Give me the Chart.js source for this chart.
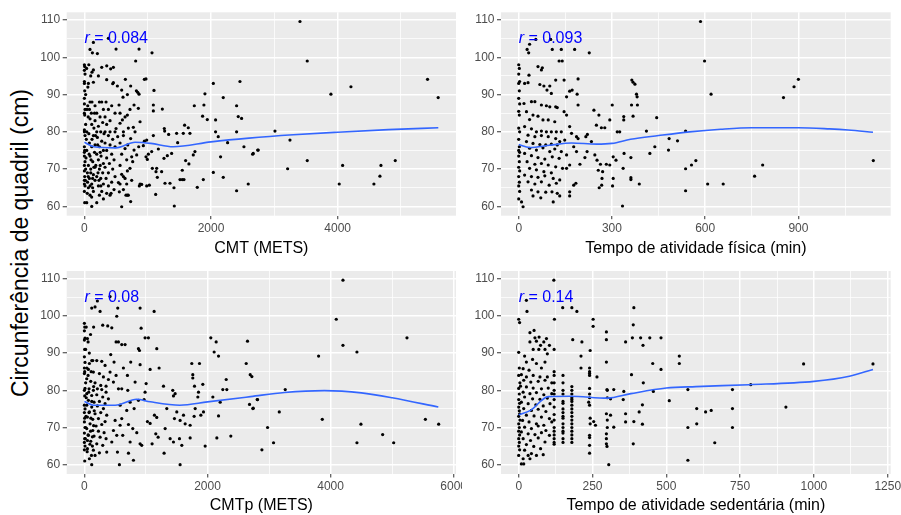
<!DOCTYPE html>
<html lang="pt">
<head>
<meta charset="UTF-8">
<title>Circunferência de quadril</title>
<script src="https://cdn.jsdelivr.net/npm/chart.js"></script>
<style>
  body { margin: 0; background: #fff; width: 901px; height: 515px; position: relative; overflow: hidden;
         font-family: "Liberation Sans", Arial, sans-serif; }
  canvas { position: absolute; }
  #ytitle { position: absolute; left: 20px; top: 243px; transform: translate(-50%, -50%) rotate(-90deg);
            font-size: 23px; white-space: nowrap; color: #000; }
</style>
</head>
<body>
<div id="ytitle">Circunferência de quadril (cm)</div>
<canvas id="p1" width="462" height="258" style="left:0;top:0"></canvas>
<canvas id="p2" width="439" height="258" style="left:462px;top:0"></canvas>
<canvas id="p3" width="462" height="257" style="left:0;top:258px"></canvas>
<canvas id="p4" width="439" height="257" style="left:462px;top:258px"></canvas>
<script>
// eixos
const yMajor = [60, 70, 80, 90, 100, 110];
const yRange = [57.5, 112.07];
const cmtTicks = [0, 2000, 4000];
const afTicks = [0, 300, 600, 900];
const cmtpTicks = [0, 2000, 4000, 6000];
const sedTicks = [0, 250, 500, 750, 1000, 1250];

const titles = ['CMT (METS)', 'Tempo de atividade física (min)', 'CMTp (METS)', 'Tempo de atividade sedentária (min)'];
const rValues = ['0.084', '0.093', '0.08', '0.14'];

// CMT (METS) x circunferência
const cmtPts = [
  [0,98],[5,97.5],[0,96.5],[10,95.5],[0,93.5],[0,93],[5,91],[0,89],[0,87.5],[10,86],[0,85],[5,84.5],[0,80.5],[0,80],[10,79],[0,76],[5,75],[0,74.5],[0,73.5],[10,72],[0,71],[0,69.5],[5,68],[0,67],[0,66],[10,65.5],[0,64],[5,61],
  [63,93],[89,88],[53,87],[89,83.5],[116,82],[37,80],[142,79],[79,77],[116,76],[37,75],[89,73.5],[132,72],[63,71],[100,70],[47,69],[142,68.5],[79,67.5],[116,66],[63,65],[142,64],[89,63],[37,61],[116,60],
  [205,101],[221,95],[142,93.3],[237,88],[274,88],[168,87],[300,86],[195,85],[247,84],[168,83],[289,82.5],[221,81.5],[195,80],[258,80],[310,79.5],[205,78.5],[274,77.5],[168,76.5],[237,76],[300,75],[195,74],[263,73.5],[221,72.5],[300,71.5],[168,70.5],[237,70],[289,69],[195,68],[258,67.5],[168,67],[300,66],[221,65.5],[274,64],[237,63],[300,62],[195,61],
  [342,88],[431,87],[379,86],[484,85],[326,84],[405,83],[352,82],[326,80],[405,80],[484,80],[379,79],[447,78],[326,77],[405,76.5],[484,76],[352,75],[431,74],[352,73],[468,72.5],[395,71.5],[326,70.5],[447,70],[379,69],[484,68],[342,67.5],[431,66.5],[379,65.5],[468,64.5],[352,63.5],[405,63],[352,94],
  [679,90],[720,86],[642,84],[694,81],[616,79],[563,77],[642,75.5],[589,74],[668,72.5],[563,71],[679,69.5],[616,68],[747,67],[563,66],[616,64.5],[679,63],
  [20,82],[60,84],[110,85],[150,81],[30,78],[70,79.5],[120,78],[160,74.5],[25,73],[75,74],[105,72.5],[150,70.5],[20,70],[60,68],[100,69],[130,67.5],[15,67],[50,66.5],[90,65.5],[130,65],[45,63.5],[115,62.5],[175,79],[210,76.5],[250,74.5],[180,71],[215,69],[250,71],[230,67],[260,65.5],[40,86],[80,86],[120,88],[160,85],[20,90],[55,92],[100,95],[35,97],[70,98],[120,96],
  [142,104],[379,105.1],[89,102.1],[126,101.2],[500,102.2],[863,102.2],[1068,101.2],[810,99],[274,97.3],[353,97.7],[415,96.9],[458,97.3],[142,96.6],[647,94.1],[947,94.1],[973,94.2],[458,93.2],[447,92.9],[521,92.3],[731,92.3],[589,91.2],[821,91],[842,90.6],[863,90.1],[1099,91.1],[610,89.3],
  [1904,90.2],[1888,87.2],[2036,93],[2457,93.5],[2193,89.2],[2404,87],[1736,87],[1867,84.2],[1941,83.3],[2072,83.2],[2430,84.1],[2483,83.6],[2404,80],[2072,80],[2114,78.7],[2262,77.1],[2151,73.3],[1720,73.8],[1746,74.7],[2520,76],[2667,74.2],[2746,75.1],[2036,69.1],[2193,67.8],[2404,64.2],[2588,66],[1783,65.1],[1878,67.2],[1546,67.2],[1573,67.2],[1510,67.2],[1651,71.4],[1599,72.3],[1546,69.7],[1415,65],[1420,60.1],
  [1273,66.2],[1352,66.2],[1126,63.2],[1220,69.3],[1131,69.3],[1152,67.8],[1257,72.9],[1310,73.6],[1378,74.2],[1331,79.3],[1262,80.9],[1268,80.2],[1473,77.1],[1562,79.6],[1583,81.8],[1641,81.1],[1667,79.6],[1457,79.6],[1168,75.4],[1063,74.7],[1010,74],[973,73.3],[994,72.6],[947,77.5],[984,77.8],[858,76],[931,76.3],[1089,79],[1089,87.2],[1089,85.6],[1231,86.1],[1073,70.2],[1142,70.2],[1026,65.7],[868,65.5],[905,65.9],[984,65.5],[879,66],
  [589,59.9],[657,63],[694,63],[731,61.3],[421,63.5],[552,63.9],[589,68.6],[642,67.5],[668,66],[537,66.4],[720,70.2],[763,72],[747,73.3],[826,73.8],[784,75.1],[684,76.5],[731,78.2],[800,80],[773,81.2],[879,82.7],[784,87.2],[852,86.3],[679,84.5],[547,87.2],[563,85],[600,83.2],[563,82.3],[500,80.9],[616,80],[526,78.7],
  [3405,109.6],[3520,99],[3894,90.1],[4210,92.1],[5420,94.1],[5588,89.2],[3010,80.2],[3247,77.8],[2658,74],[2737,75.1],[3520,72.3],[3210,70.1],[4079,71],[4684,71],[4910,72.3],[4668,68.1],[4025,66],[4573,66]
];
const cmtSmooth = [[0,77.2],[150,76.0],[500,75.7],[800,77.2],[1050,76.9],[1400,76.0],[2000,77.3],[2600,78.3],[3300,79.2],[4000,79.9],[4800,80.6],[5590,81.1]];

// tempo de atividade física (min)
const afPts = [
  [0,98],[2,97],[0,95.5],[3,93.5],[0,93],[2,91],[0,89],[3,87.5],[0,85.5],[2,84.5],[0,81],[3,80],[0,78],[2,76],[0,75],[3,74.5],[0,73.5],[2,72],[0,70.5],[3,69.5],[0,68],[2,66.5],[0,65.5],[3,64],[0,62],
  [14,59.9],[9,61.2],[27,102.1],[32,101.2],[35,103.5],[55,104.8],[103,104.8],[108,102.1],[62,97.5],[76,97.2],[73,96.6],[33,95.2],[30,93.2],[19,93],[68,92.7],[81,92.3],[100,92.3],[91,91.2],[105,90.3],[17,87.6],[41,88.1],[52,88.1],[73,87.2],[89,87],[100,86.7],[119,86.7],[25,85.4],[46,84.5],[62,84.2],[35,83.3],[78,83.2],[95,83.2],[116,82.7],[19,81.4],[41,80.8],[57,80],[73,80.2],[89,80],[105,80],[121,80],[137,80],
  [30,79.1],[52,78.7],[73,79],[95,78.7],[119,78.2],[132,77.4],[148,77.8],[25,77.4],[46,76.9],[68,76.6],[87,76.5],[105,76.7],[124,76.5],[35,75.6],[57,75.1],[78,75.7],[100,74.7],[116,75.4],[137,74.7],[19,74.2],[41,73.6],[62,73.1],[84,72.7],[108,73.3],[130,72.9],[154,73.8],[27,72],[52,71.3],[73,71.5],[95,71.1],[119,70.6],[141,70.2],[35,70.2],[57,69.8],[81,69.3],[105,69],[19,68.4],[41,68],[62,67.8],[84,68.2],[111,67.5],[132,67.1],[30,66.6],[52,66],[73,66.6],[98,65.7],[121,66.2],[41,64.4],[62,63.9],[87,63.8],[46,62.8],[71,62.3],
  [258,84.5],[242,85.8],[250,81.8],[266,81.1],[277,81.1],[221,79.3],[216,78.7],[234,77.4],[245,73.8],[252,72.4],[263,71.3],[256,69.7],[270,69.3],[268,67.5],[259,65],[267,65.7],[220,74.7],[213,73.1],[197,71.3],[186,74.7],[177,76],[191,78.2],[186,78.7],[170,79.6],[164,81.4],[154,84.5],[191,87.2],[188,90.1],[172,91.2],[164,90.9],[146,93.9],[191,94.2],[119,93.9],[130,99],[154,89.4],[124,86.5],[146,85.4],[164,62.8],[177,65.7],[184,66.2],[154,70.2],[164,71.1],[164,63.9],[107,63.9],[111,61.2],[124,63.5],[132,62.8],
  [227,101.2],[137,102.1],[180,102.1],[140,99],[364,93.9],[368,93.3],[374,92.8],[379,90.1],[381,89.4],[363,87.2],[382,87.2],[368,84.2],[338,84.1],[338,83.2],[301,87.2],[293,83.2],[411,80.2],[444,83.8],[438,76],[484,78.2],[511,77.6],[422,74.2],[482,75.1],[339,74.2],[361,73.1],[313,72.4],[304,73.3],[293,71.1],[282,71.3],[304,67.5],[302,65.5],[336,70.2],[325,80],[317,80],[361,67.7],[361,67.2],[388,66],[334,60.1],
  [585,109.6],[598,99],[619,90.1],[852,89.2],[886,92.1],[900,94.1],[537,80.2],[537,70.1],[556,71.1],[570,72.3],[537,64.2],[608,66],[658,66],[759,68.1],[785,71.1],[1141,72.3]
];
const afSmooth = [[0,76.6],[35,75.8],[100,76.4],[170,77.0],[250,76.7],[300,76.9],[360,78.0],[450,79.0],[550,80.0],[650,80.7],[750,81.1],[900,81.1],[1000,80.8],[1060,80.5],[1140,79.9]];

// CMTp (METS)
const cmtpPts = [
  [0,98],[5,97],[0,96],[10,94],[0,93.5],[5,91],[0,89],[10,87.5],[0,86],[5,85],[0,84.5],[10,80.5],[0,80],[5,78.5],[0,76],[10,75],[0,74],[5,72.5],[0,71.5],[10,70],[0,68.5],[5,67],[0,66],[10,65],[0,64],[5,61],
  [49,93.9],[81,87.2],[136,88],[201,88],[282,87.8],[336,86.7],[65,85.6],[146,84.9],[244,84.5],[309,83.6],[38,83.1],[103,82.4],[173,82],[266,81.3],[352,81.1],[76,80.4],[146,80],[211,80.4],[282,80.2],[352,79.5],[38,79.1],[119,78.6],[201,78.8],[298,78.2],[390,77.7],[65,77.3],[157,76.8],[244,77],[336,76.4],[38,76],[119,75.5],[211,75.8],[309,75.1],[81,74.2],[173,73.7],[266,74],[363,73.3],[49,72.8],[136,72.2],[228,72.4],[336,71.6],[92,71],[190,70.4],[282,70.8],[38,69.7],[136,69.2],[228,69],[320,68.6],[65,67.9],[157,67.7],[255,67.4],[352,67],[103,66.3],[201,65.6],[298,65.2],[49,64.3],[146,63.9],[244,63.2],[81,61.6],[119,60],[173,62.5],
  [20,82],[60,84],[110,85],[150,81],[30,78],[70,79.5],[120,77],[160,74.5],[25,73],[75,74],[105,72.5],[150,70.5],[20,70],[60,68],[100,69],[130,67.5],[15,67],[50,66.5],[90,65.5],[130,65],[45,63.5],[115,62.5],[40,86],[80,90],[120,88],[20,91],[60,93],[100,95],[30,97],[150,97],
  [905,102.1],[922,96.7],[895,90.7],[878,91.2],[905,86.9],[986,79.5],[1003,81.8],[970,77.5],[878,77.3],[824,82.2],[699,84],[753,87.6],[634,86],[705,80],[607,80.4],[743,76.8],[808,75.1],[688,74.6],[607,72.4],[716,70.8],[786,69.7],[851,68.6],[623,67.9],[905,65.6],[932,65.2],[743,66.1],[716,63.1],[797,61.2],[569,60],[537,63.4],[553,93],[607,92.3],[661,92.3],[515,93],[542,102.1],[417,105.2],[526,99.9],[445,96.8],[379,97.3],[298,97.5],[255,101.2],[173,102.4],[119,102.1],[211,104],[428,89.6],[482,87.6],[417,84.9],[515,84],[390,82.9],[472,82.2],[553,80.4],[580,76],[499,71.9],[580,70.6],[472,69.2],[526,67.9],[445,66.1],[363,63.4],
  [1133,101.2],[986,94.1],[1040,94.1],[1176,91.2],[1068,85.6],[1214,86],[1285,81.1],[1436,80],[1474,79.1],[1447,78.5],[1501,74.2],[1339,75.1],[1463,72.4],[1555,71.9],[1610,73.3],[1637,71],[1718,70.6],[1545,67],[1393,67],[1447,66.1],[1583,65.2],[1718,67.2],[1555,60],[1312,69.7],[1198,67.4],[1160,68.3],[1295,63.1],[1138,73.3],[1176,72.7],[1068,71.1],[1024,71.6],[1100,65.6],
  [1745,87.2],[1870,87.2],[1761,84.2],[1761,83.3],[1789,81.1],[1854,79.5],[1924,81.6],[1843,78.2],[1935,74.2],[1892,73.3],[1800,75.1],[1783,73],[1962,65],[2054,94.1],[2141,93],[2108,90.3],[2179,89.2],[2087,78.2],[2152,67.2],[2179,73.1],[2206,76.8],[2249,80.2],[2314,80.2],[2304,82.9],[2379,67.7],[2650,93.2],[2629,87.2],[2683,76.2],[2743,75.2],[2808,77.5],
  [4201,109.6],[4092,99.1],[4201,92.1],[4428,90.3],[5241,94.1],[3805,89.2],[2721,83.7],[2694,84.2],[3263,80.2],[2813,77.5],[2737,75.1],[3166,74.2],[3865,72.2],[2976,70],[4493,70.9],[5540,72.2],[5756,70.9],[4846,68.1],[4428,65.9],[5025,65.9],[3073,65.9],[2884,64]
];
const cmtpSmooth = [[0,77.0],[150,76.0],[500,76.0],[850,77.6],[1070,76.9],[1550,76.0],[2000,76.9],[2700,78.3],[3250,79.4],[3900,79.9],[4500,79.3],[5000,78.0],[5750,75.5]];

// tempo de atividade sedentária (min)
const sedPts = [
  [0,99.1],[3,98.2],[0,90.2],[2,86],[0,84],[4,82],[0,80.5],[2,79],[0,77.5],[3,76.5],[0,75.5],[2,74.5],[0,73],[4,72],[0,71],[2,70],[0,69],[3,68],[0,67],[2,66],[0,65],[3,64],[0,62.5],
  [9,60.2],[17,60.2],[15,61.6],[32,62.5],[38,61.6],[26,104.2],[28,101.2],[38,95.5],[52,96.1],[55,94.1],[60,93.2],[38,93],[69,94.3],[74,92.1],[85,93],[94,93.9],[104,92.1],[89,91],[97,89.8],[68,91],[49,91],[20,89.2],[26,87.6],[47,88.3],[60,87.2],[77,86],[89,87.6],[15,85.8],[35,85.4],[9,84.2],[26,83.6],[49,84],[72,83.6],[97,83.6],[17,82.7],[41,82.2],[66,82.4],[89,82.7],[112,82],[6,81.1],[26,80.9],[49,80.6],[77,80.4],[100,80.6],[15,79.5],[38,79.1],[60,79.4],[85,78.8],[112,79.1],[20,78.2],[47,77.7],[72,77.6],[97,77.9],
  [9,76.8],[32,76.4],[58,76.1],[83,75.8],[106,76.4],[17,75.1],[43,74.6],[66,74.9],[92,74.3],[3,73.7],[26,73.3],[52,73.1],[77,72.8],[104,72.4],[13,71.9],[35,71.5],[60,71],[85,70.6],[112,71.5],[20,70.1],[43,69.7],[66,70.4],[92,69.2],[9,68.8],[32,68.3],[55,68.1],[77,68.6],[104,67.9],[15,67],[40,66.5],[66,67.2],[89,66.1],[26,65.4],[51,64.9],[74,64.3],[20,63.9],[43,63],[60,62.5],[83,62.7],
  [120,91],[120,85],[120,84],[120,82],[120,80],[120,79],[120,77.5],[120,75.5],[120,73.5],[120,72],[120,70],[120,69],[120,68],[120,67],[120,66],[120,65.5],
  [150,84],[150,82],[150,80],[150,79],[150,77],[150,76.5],[150,75],[150,74],[150,73],[150,72.5],[150,71],[150,70],[150,69],[150,68.5],[150,67],[150,66],
  [180,81],[180,80],[180,79],[180,78],[180,77.5],[180,77],[180,76],[180,75],[180,74],[180,73],[180,72],[180,71],[180,70],[180,69],[180,68],[180,67],[180,66],
  [240,85],[240,84.5],[240,84],[240,80.5],[240,79],[240,78],[240,76],[300,80],[300,78],[300,72],[300,70],
  [121,99.1],[119,109.6],[149,102.2],[180,102.2],[197,101.2],[252,99.1],[252,97.2],[297,95.7],[297,93.6],[390,102.2],[388,97.6],[362,93],[385,94.1],[413,94.1],[444,94.1],[482,94.1],[421,92.1],[214,93],[183,93.6],[211,89.2],[242,90.7],[297,87.6],[240,86],[211,86],[265,83.6],[454,87.2],[482,85.6],[544,89.2],[544,87.2],[382,84.2],[422,82],[456,79.7],[356,79.7],[322,80.2],[299,80.2],[311,77.7],[354,77.5],[419,76.1],[408,74.2],[390,71.6],[419,70.9],[362,73.7],[362,71.5],[311,73.3],[322,70.1],[297,73.7],[297,68.3],[297,67],[297,65.6],[299,64.9],[305,60],[388,65.6],[510,77.2],[242,72.5],[242,71],[240,67.9],[240,67.3],[240,65.2],[240,63.1],[254,71.6],[260,70.6],[237,76.8],
  [573,80.2],[573,70],[573,61.2],[603,75.1],[603,71],[633,74.2],[652,74.6],[664,65.9],[724,80.2],[724,75.1],[724,70],[786,81.5],[905,75.5],[965,87.1],[1200,87.1]
];
const sedSmooth = [[0,73.4],[40,74.6],[100,78.3],[175,78.4],[300,77.9],[380,79.1],[500,80.6],[600,81.0],[780,81.5],[1000,82.4],[1120,83.8],[1200,85.6]];

Chart.defaults.font.family = '"Liberation Sans", Arial, sans-serif';

function withMinor(major, min, max) {
  const half = (major[1] - major[0]) / 2;
  const out = [];
  for (let v = major[0] - half; v <= max; v += half) if (v >= min) out.push(v);
  return out;
}

const panelBg = {
  id: 'panelBg',
  beforeDraw(chart) {
    const { ctx, chartArea: a } = chart;
    ctx.save();
    ctx.fillStyle = '#EBEBEB';
    ctx.fillRect(a.left, a.top, a.right - a.left, a.bottom - a.top);
    ctx.restore();
  }
};

const rLabel = {
  id: 'rLabel',
  afterDatasetsDraw(chart, args, opts) {
    const { ctx, scales } = chart;
    const px = scales.x.getPixelForValue(0), py = scales.y.getPixelForValue(105);
    ctx.save();
    ctx.fillStyle = '#0000FF';
    ctx.textBaseline = 'middle';
    ctx.font = 'italic 16px "Liberation Sans", Arial';
    ctx.fillText('r', px, py);
    const w = ctx.measureText('r').width;
    ctx.font = '16px "Liberation Sans", Arial';
    ctx.fillText(' = ' + opts.text, px + w, py);
    ctx.restore();
  }
};

function makePanel(id, p) {
  const xAll = withMinor(p.xMajor, p.xMin, p.xMax);
  const yAll = withMinor(yMajor, yRange[0], yRange[1]);
  const xh = p.h - p.b;
  const gridW = (major) => (c) => major.includes(c.tick.value) ? 1.5 : 0.75;
  const tickC = (major) => (c) => major.includes(c.tick.value) ? '#333333' : 'rgba(0,0,0,0)';

  new Chart(document.getElementById(id), {
    type: 'scatter',
    data: {
      datasets: [
        {
          data: p.smooth.map(([x, y]) => ({ x, y })),
          showLine: true, borderColor: '#3366FF', borderWidth: 1.6,
          pointRadius: 0, cubicInterpolationMode: 'monotone', order: 0
        },
        {
          data: p.pts.map(([x, y]) => ({ x, y })),
          backgroundColor: '#000000', borderWidth: 0, pointRadius: 1.6, order: 1
        }
      ]
    },
    options: {
      responsive: false,
      animation: false,
      events: [],
      layout: { padding: { top: p.t, right: p.w - p.r, left: 0, bottom: 0 } },
      plugins: { legend: { display: false }, tooltip: { enabled: false }, rLabel: { text: p.r2 } },
      scales: {
        x: {
          type: 'linear', min: p.xMin, max: p.xMax,
          afterBuildTicks: (s) => { s.ticks = xAll.map(v => ({ value: v })); },
          afterFit: (s) => { s.height = xh; s.paddingLeft = 0; s.paddingRight = 0; },
          ticks: { autoSkip: false, maxRotation: 0, color: '#4D4D4D', font: { size: 12 }, padding: 1.8,
                   callback: (v) => p.xMajor.includes(v) ? String(v) : '' },
          grid: { color: '#FFFFFF', lineWidth: gridW(p.xMajor), tickColor: tickC(p.xMajor), tickLength: 3.5, tickWidth: 1 },
          border: { display: false },
          title: { display: true, text: p.title, color: '#000000', font: { size: 16 },
                   padding: { top: xh - 29 - 9.6, bottom: 0 } }
        },
        y: {
          type: 'linear', min: yRange[0], max: yRange[1],
          afterBuildTicks: (s) => { s.ticks = yAll.map(v => ({ value: v })); },
          afterFit: (s) => { s.width = p.l; s.paddingTop = 0; s.paddingBottom = 0; },
          ticks: { autoSkip: false, color: '#4D4D4D', font: { size: 12 }, padding: 2.5,
                   callback: (v) => yMajor.includes(v) ? String(v) : '' },
          grid: { color: '#FFFFFF', lineWidth: gridW(yMajor), tickColor: tickC(yMajor), tickLength: 4, tickWidth: 1 },
          border: { display: false }
        }
      }
    },
    plugins: [panelBg, rLabel]
  });
}

// l/t/r/b: área do painel dentro do canvas
makePanel('p1', { w: 462, h: 258, l: 66.7, t: 12.3, r: 456, b: 215.7, xMin: -279.5, xMax: 5869.5, xMajor: cmtTicks,
                  pts: cmtPts, smooth: cmtSmooth, title: titles[0], r2: rValues[0] });
makePanel('p2', { w: 439, h: 258, l: 39, t: 12.3, r: 428.7, b: 215.7, xMin: -57, xMax: 1197, xMajor: afTicks,
                  pts: afPts, smooth: afSmooth, title: titles[1], r2: rValues[1] });
makePanel('p3', { w: 462, h: 257, l: 66.7, t: 13, r: 456, b: 216, xMin: -287.5, xMax: 6037.5, xMajor: cmtpTicks,
                  pts: cmtpPts, smooth: cmtpSmooth, title: titles[2], r2: rValues[2] });
makePanel('p4', { w: 439, h: 257, l: 39, t: 13, r: 428.7, b: 216, xMin: -60, xMax: 1260, xMajor: sedTicks,
                  pts: sedPts, smooth: sedSmooth, title: titles[3], r2: rValues[3] });
</script>
</body>
</html>
